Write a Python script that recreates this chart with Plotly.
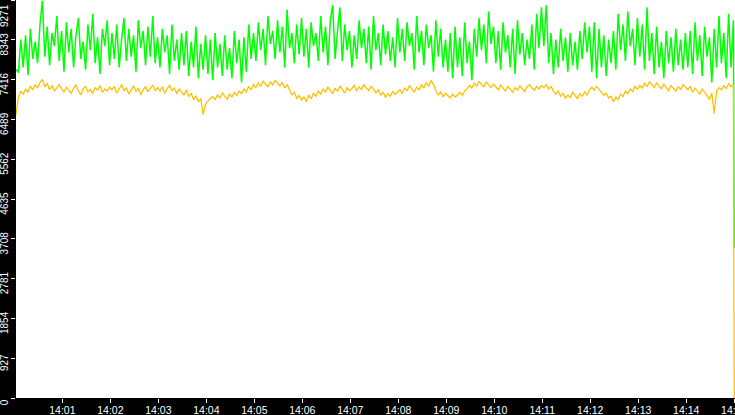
import pandas as pd
import plotly.graph_objects as go

# values, one sample every 3 s from 14:00:02, last sample at 14:15:00
green_vals = [
    7650, 7580, 8350, 7700, 8450, 7520, 8600, 7900, 8300, 7800, 8700, 9250, 7950, 8650, 7750, 8500, 8200, 8900, 7850, 8550,
    7600, 8750, 8050, 8600, 7700, 8450, 8850, 7900, 8300, 7650, 8700, 8100, 8950, 7800, 8400, 7550, 8600, 8200, 8800, 7750,
    8500, 7900, 8700, 7700, 8350, 8850, 7850, 8600, 7950, 8450, 7600, 8800, 8150, 8550, 7750, 8650, 7950, 8900, 7800, 8400,
    7700, 8600, 8050, 8450, 7550, 8700, 7850, 8350, 7650, 8500, 7750, 8550, 7500, 8300, 7700, 8650, 7450, 8250, 7650, 8450,
    7550, 8350, 7400, 8500, 7700, 8250, 7500, 8450, 7650, 8150, 7450, 8550, 7800, 8350, 7350, 8400, 7600, 8700, 7900, 8500,
    7850, 8750, 8100, 8600, 7750, 8900, 8250, 8550, 7900, 8800, 8050, 8650, 7700, 9050, 8150, 8500, 7800, 8700, 8000, 8850,
    7950, 8600, 7700, 8750, 8200, 8500, 7850, 8900, 8050, 8650, 7750, 8800, 9150, 7900, 8550, 9100, 7850, 8700, 8100, 8550,
    7700, 8450, 7900, 8800, 8150, 8600, 7800, 8650, 7650, 8900, 8100, 8500, 7750, 8700, 8000, 8550, 7850, 8400, 7700, 8850,
    8050, 8600, 7850, 8750, 8200, 8500, 7650, 8900, 8050, 8550, 7750, 8700, 8150, 8450, 7600, 8800, 7950, 8600, 7700, 8350,
    7600, 8500, 7450, 8650, 7700, 8400, 7500, 8750, 7800, 8300, 7400, 8600, 7950, 8850, 8100, 8700, 7800, 9000, 8250, 8650,
    7800, 8550, 7650, 8750, 8050, 8450, 7700, 8600, 7550, 8800, 8000, 8500, 7750, 8350, 7900, 8700, 7650, 8950, 8150, 9100,
    8200, 9150, 7800, 8500, 7550, 8350, 7700, 8600, 7850, 8400, 7600, 8500, 7750, 8300, 7650, 8550, 7900, 8750, 8050, 8650,
    7600, 8750, 7450, 8600, 7700, 8450, 7500, 8350, 7800, 8550, 7650, 8950, 8100, 8700, 7850, 9000, 8200, 8600, 7750, 8850,
    7950, 8700, 7650, 9100, 7850, 8500, 7550, 8650, 7700, 8300, 7450, 8550, 7800, 8400, 7600, 8600, 7750, 8350, 7650, 8500,
    7700, 8550, 7550, 8750, 7850, 8450, 7500, 8650, 7950, 8400, 7350, 8600, 7700, 8900, 7800, 8500, 7450, 8950, 7700, 8800,
    3500,
]

orange_vals = [
    6600, 7000, 7150, 7080, 7200, 7120, 7260, 7180, 7300, 7220, 7350, 7420, 7250, 7330, 7180, 7280, 7150, 7230, 7300, 7200,
    7120, 7240, 7180, 7100, 7220, 7300, 7150, 7060, 7200, 7260, 7130, 7190, 7090, 7230, 7170, 7280, 7120, 7200, 7150, 7240,
    7180, 7260, 7100, 7200, 7300, 7160, 7230, 7080, 7190, 7270, 7140, 7220, 7060, 7180, 7250, 7130, 7210, 7290, 7160, 7230,
    7150, 7250, 7100, 7210, 7280, 7160, 7220, 7090, 7200, 7140, 7060, 7180, 7020, 7100, 6950, 7040, 6900, 6980, 6600, 6850,
    6920, 6980, 7020, 6950, 7060, 6990, 7100, 7030, 6960, 7080, 7010, 7120, 7050, 7150, 7090, 7200, 7130, 7260, 7180, 7300,
    7230, 7340, 7260, 7380, 7300, 7250, 7360, 7290, 7400, 7320, 7270, 7350, 7220, 7300, 7180, 7060, 7120, 6980, 7050, 6940,
    7010, 6900, 7060, 6970, 7100, 7030, 7150, 7080, 7200, 7120, 7250, 7160, 7090, 7220, 7140, 7270, 7180, 7100, 7230, 7160,
    7210, 7280, 7150, 7250, 7190, 7300, 7220, 7160, 7260, 7200, 7110, 7180, 7050, 7130, 7000, 7090, 7030, 7150, 7070, 7120,
    7180, 7090, 7230, 7150, 7280, 7200, 7120, 7250, 7170, 7300, 7220, 7350, 7260, 7400, 7300, 7150, 7060, 7130, 7020, 7100,
    7040, 6990, 7080, 7010, 7060, 7120, 7050, 7150, 7200, 7280, 7220, 7340, 7260, 7380, 7300, 7250, 7360, 7280, 7230, 7310,
    7240, 7180, 7290, 7210, 7150, 7260, 7190, 7120, 7230, 7170, 7270, 7200, 7140, 7250, 7300, 7220, 7170, 7260, 7200, 7280,
    7230, 7300, 7200, 7260, 7150, 7080, 7160, 7020, 7100, 6980, 7060, 7000, 7120, 7050, 6970, 7090, 7030, 7130, 7060, 7180,
    7240, 7170, 7260, 7190, 7120, 7050, 7100, 6990, 7030, 6900, 7010, 6950, 7080, 7020, 7150, 7090, 7200, 7140, 7260, 7190,
    7280, 7220, 7330, 7250, 7370, 7290, 7230, 7340, 7270, 7200, 7310, 7240, 7160, 7280, 7210, 7150, 7250, 7190, 7300, 7230,
    7180, 7260, 7120, 7220, 7160, 7080, 7200, 7130, 7050, 6950, 7100, 6630, 7150, 7230, 7180, 7270, 7210, 7320, 7250, 7300,
    0,
]

y_max = 9271
y_ticks = [y_max * i / 10 for i in range(11)]
y_labels = ['0', '927', '1854', '2781', '3708', '4635', '5562', '6489', '7416', '8343', '']
top_label = '9271'

# sample times
times = list(pd.date_range('2024-01-01 14:00:02', periods=len(green_vals) - 1, freq='3s'))
times.append(pd.Timestamp('2024-01-01 14:15:00'))

fig = go.Figure()
fig.add_trace(go.Scatter(x=times, y=green_vals, mode='lines',
                         line=dict(color='#00ff00', width=1.5)))
fig.add_trace(go.Scatter(x=times, y=orange_vals, mode='lines',
                         line=dict(color='#ffc000', width=1.3)))

fig.update_layout(
    width=735, height=415,
    margin=dict(l=16, r=0, t=0, b=17, autoexpand=False),
    paper_bgcolor='black',
    plot_bgcolor='white',
    showlegend=False,
    hovermode=False,
    font=dict(family='Liberation Sans', color='white'),
)
fig.update_xaxes(
    range=['2024-01-01 14:00:02', '2024-01-01 14:15:01'],
    dtick=60000, tick0='2024-01-01 14:00:00', tickformat='%H:%M',
    ticks='outside', ticklen=4, tickcolor='white',
    tickfont=dict(size=10.5, color='white'),
    ticklabelstandoff=-2, ticklabeloverflow='allow', automargin=False,
    showgrid=False, zeroline=False, showline=False,
)
fig.update_yaxes(
    range=[0, y_max],
    tickvals=y_ticks, ticktext=y_labels, tickangle=-90,
    ticks='outside', ticklen=4, tickcolor='white',
    tickfont=dict(size=10, color='white'),
    ticklabelshift=6, ticklabelstandoff=-1, ticklabeloverflow='allow', automargin=False,
    showgrid=False, zeroline=False, showline=False,
)
# top label sits inside the window, below its tick
fig.add_annotation(text=top_label, textangle=-90, showarrow=False,
                   xref='paper', x=0, xanchor='right', xshift=-4,
                   yref='y', y=y_max, yanchor='top', yshift=-2,
                   font=dict(size=10, color='white'))

# page body margin off so the chart fills the window
fig.write_html('out.html', config={'displayModeBar': False},
               post_script="document.body.style.margin='0';")
